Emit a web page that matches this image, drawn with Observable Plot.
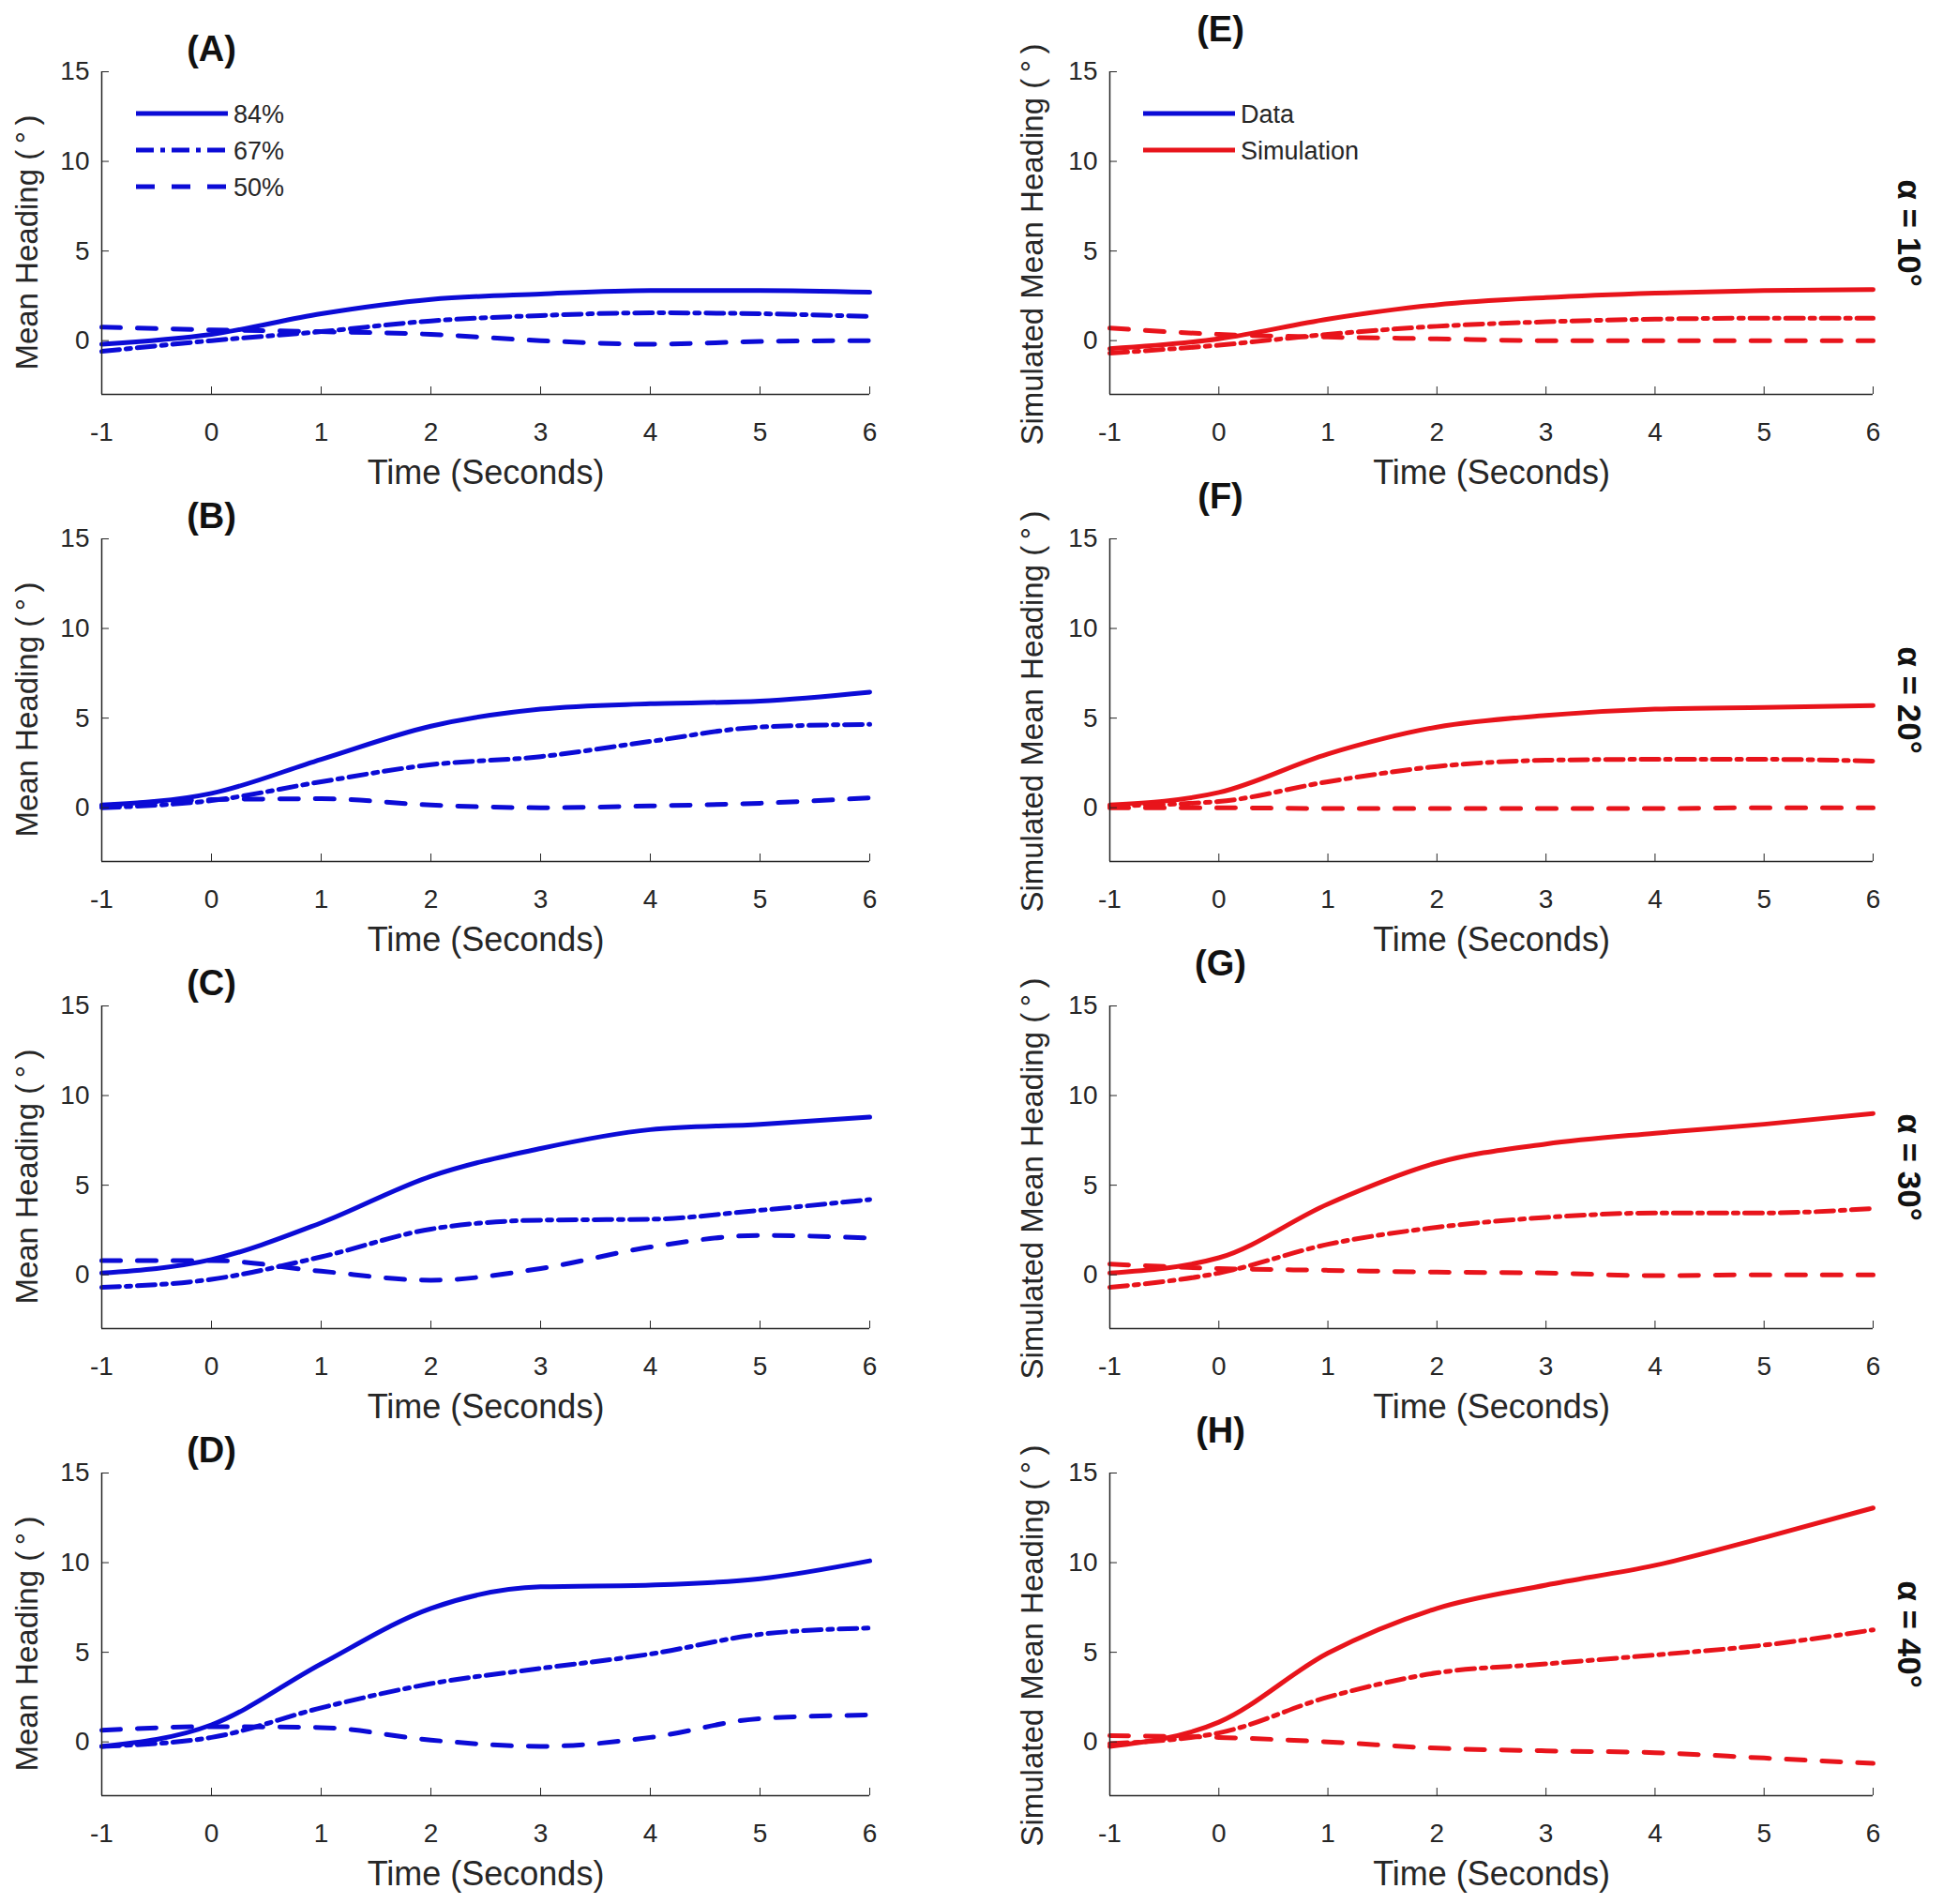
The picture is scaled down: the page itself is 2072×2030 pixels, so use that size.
<!DOCTYPE html>
<html>
<head>
<meta charset="utf-8">
<script src="https://cdn.jsdelivr.net/npm/d3@7"></script>
<script src="https://cdn.jsdelivr.net/npm/@observablehq/plot@0.6"></script>
<style>
  body { margin: 0; background: #fff; }
  #fig { position: relative; width: 2072px; height: 2030px; background: #fff; overflow: hidden; }
  #fig > svg { position: absolute; }
</style>
</head>
<body>
<div id="fig"></div>
<script>
// ---------- chart text & axes ----------
const times = [-1, 0, 1, 2, 3, 4, 5, 6];
const yTicks = [0, 5, 10, 15];
const xDomain = [-1, 6];
const yDomain = [-3, 15];
const coherenceLabels = ["84%", "67%", "50%"];
const sourceLabels = ["Data", "Simulation"];
const leftLetters = ["(A)", "(B)", "(C)", "(D)"];
const rightLetters = ["(E)", "(F)", "(G)", "(H)"];
const alphaLabels = ["α = 10°", "α = 20°", "α = 30°", "α = 40°"];
const xLabel = "Time (Seconds)";
const leftYLabel = "Mean Heading (\u2009°\u2009)";
const rightYLabel = "Simulated Mean Heading (\u2009°\u2009)";

// ---------- observed data (Mean Heading, degrees) ----------
const dataA_84 = [-0.2, 0.35, 1.5, 2.3, 2.6, 2.8, 2.8, 2.7];
const dataA_67 = [-0.6, 0.0, 0.5, 1.1, 1.4, 1.55, 1.5, 1.35];
const dataA_50 = [0.75, 0.6, 0.5, 0.35, 0.0, -0.2, -0.05, 0.0];
const dataB_84 = [0.15, 0.8, 2.7, 4.55, 5.5, 5.8, 5.95, 6.45];
const dataB_67 = [0.0, 0.4, 1.45, 2.4, 2.85, 3.7, 4.5, 4.65];
const dataB_50 = [0.1, 0.45, 0.5, 0.15, 0.0, 0.1, 0.25, 0.55];
const dataC_84 = [0.1, 0.85, 2.9, 5.5, 7.05, 8.1, 8.4, 8.8];
const dataC_67 = [-0.7, -0.25, 1.0, 2.55, 3.05, 3.1, 3.6, 4.2];
const dataC_50 = [0.8, 0.8, 0.2, -0.3, 0.35, 1.55, 2.2, 2.05];
const dataD_84 = [-0.25, 0.95, 4.35, 7.45, 8.65, 8.75, 9.1, 10.1];
const dataD_67 = [-0.25, 0.25, 1.9, 3.25, 4.1, 4.9, 6.0, 6.35];
const dataD_50 = [0.65, 0.85, 0.8, 0.1, -0.25, 0.25, 1.3, 1.5];

// ---------- simulated data (Simulated Mean Heading, degrees) ----------
const simE_84 = [-0.45, 0.1, 1.2, 2.0, 2.4, 2.65, 2.8, 2.85];
const simE_67 = [-0.7, -0.25, 0.35, 0.8, 1.05, 1.2, 1.25, 1.25];
const simE_50 = [0.7, 0.35, 0.2, 0.1, 0.0, 0.0, 0.0, 0.0];
const simF_84 = [0.15, 0.85, 3.0, 4.5, 5.15, 5.5, 5.6, 5.7];
const simF_67 = [0.1, 0.35, 1.45, 2.3, 2.65, 2.7, 2.7, 2.6];
const simF_50 = [0.0, 0.0, -0.05, -0.05, -0.05, -0.05, 0.0, 0.0];
const simG_84 = [0.1, 0.95, 3.95, 6.25, 7.3, 7.9, 8.4, 9.0];
const simG_67 = [-0.7, 0.1, 1.7, 2.65, 3.2, 3.45, 3.45, 3.7];
const simG_50 = [0.6, 0.35, 0.25, 0.15, 0.1, -0.05, 0.0, 0.0];
const simH_84 = [-0.25, 1.1, 4.95, 7.45, 8.75, 9.85, 11.4, 13.05];
const simH_67 = [-0.1, 0.5, 2.5, 3.85, 4.35, 4.85, 5.4, 6.25];
const simH_50 = [0.35, 0.25, 0.0, -0.35, -0.5, -0.6, -0.9, -1.2];

// ---------- styling ----------
const FONT = "'Liberation Sans', Arial, Helvetica, sans-serif";
const INK = "#262626";
const BLUE = "#0b0bd6";
const RED = "#e8141b";
const DASHES = ["none", "19,7,5,7", "20,18"]; // solid, dash-dot, dashed
const LINE_W = 5;

const W = 1036, H = 498;
const fig = document.getElementById("fig");

function panel({col, row, letter, series, color, yLabel, alpha, legend}) {
  const right = col === 1;
  const marginLeft = right ? 147 : 108;
  const marginRight = right ? 75 : 109;
  const marks = [];
  series.forEach((vals, i) => {
    const tbl = times.map((t, j) => ({t, v: vals[j]}));
    marks.push(Plot.line(tbl, {
      x: "t", y: "v", stroke: color, strokeWidth: LINE_W,
      strokeDasharray: DASHES[i], curve: "monotone-x"
    }));
  });
  marks.push(
    Plot.ruleX([xDomain[0]], {stroke: INK, strokeWidth: 1.5}),
    Plot.ruleY([yDomain[0]], {stroke: INK, strokeWidth: 1.5}),
    Plot.axisX({ticks: times, tickSize: -8, tickPadding: 38, fontSize: 28, tickFormat: d => String(d),
                label: null, stroke: INK, fill: INK}),
    Plot.axisY({ticks: yTicks, tickSize: -8, tickPadding: 21, fontSize: 28, tickFormat: d => String(d),
                label: null, stroke: INK, fill: INK}),
    Plot.text([xLabel], {frameAnchor: "bottom", dy: 84, fontSize: 36, fill: INK,
                         textAnchor: "middle", lineAnchor: "middle"}),
    Plot.text([yLabel], {frameAnchor: "left", dx: right ? -82 : -79, dy: right ? 12 : 10, rotate: -90,
                         fontSize: 33, fill: INK, textAnchor: "middle", lineAnchor: "middle"}),
    Plot.text([letter], {frameAnchor: "top-left", dx: right ? 118 : 117, dy: right ? -45 : -24,
                         fontSize: 38, fontWeight: "bold", fill: "#111",
                         textAnchor: "middle", lineAnchor: "middle"})
  );
  if (alpha) {
    marks.push(Plot.text([alpha], {frameAnchor: "right", dx: 38, rotate: 90, fontSize: 35, fontWeight: "bold",
                                   fill: "#111", textAnchor: "middle", lineAnchor: "middle"}));
  }
  const svg = Plot.plot({
    width: W, height: H,
    marginLeft, marginRight, marginTop: 76, marginBottom: 78,
    style: {background: "transparent", overflow: "visible", fontFamily: FONT, color: INK},
    x: {domain: xDomain},
    y: {domain: yDomain},
    marks
  });
  svg.style.left = (col * W) + "px";
  svg.style.top = (row * H) + "px";

  if (legend) {
    const g = d3.select(svg).append("g")
      .attr("font-family", FONT).attr("font-size", 27).attr("fill", INK)
      .attr("text-anchor", "start");
    const x0 = right ? 183 : 145, len = 98;
    const ys = [121, 160, 199];
    legend.forEach((item, i) => {
      g.append("line")
        .attr("x1", x0).attr("x2", x0 + len).attr("y1", ys[i]).attr("y2", ys[i])
        .attr("stroke", item.color).attr("stroke-width", LINE_W)
        .attr("stroke-dasharray", item.dash);
      g.append("text").attr("x", x0 + len + 6).attr("y", ys[i]).attr("dy", "0.36em")
        .attr("text-anchor", "start").text(item.label);
    });
  }
  fig.appendChild(svg);
}

const dataSets = [
  [dataA_84, dataA_67, dataA_50],
  [dataB_84, dataB_67, dataB_50],
  [dataC_84, dataC_67, dataC_50],
  [dataD_84, dataD_67, dataD_50]
];
const simSets = [
  [simE_84, simE_67, simE_50],
  [simF_84, simF_67, simF_50],
  [simG_84, simG_67, simG_50],
  [simH_84, simH_67, simH_50]
];

for (let r = 0; r < 4; r++) {
  panel({
    col: 0, row: r, letter: leftLetters[r], series: dataSets[r], color: BLUE, yLabel: leftYLabel,
    legend: r === 0 ? coherenceLabels.map((l, i) => ({label: l, color: BLUE, dash: DASHES[i]})) : null
  });
  panel({
    col: 1, row: r, letter: rightLetters[r], series: simSets[r], color: RED, yLabel: rightYLabel,
    alpha: alphaLabels[r],
    legend: r === 0 ? sourceLabels.map((l, i) => ({label: l, color: i === 0 ? BLUE : RED, dash: "none"})) : null
  });
}
</script>
</body>
</html>
